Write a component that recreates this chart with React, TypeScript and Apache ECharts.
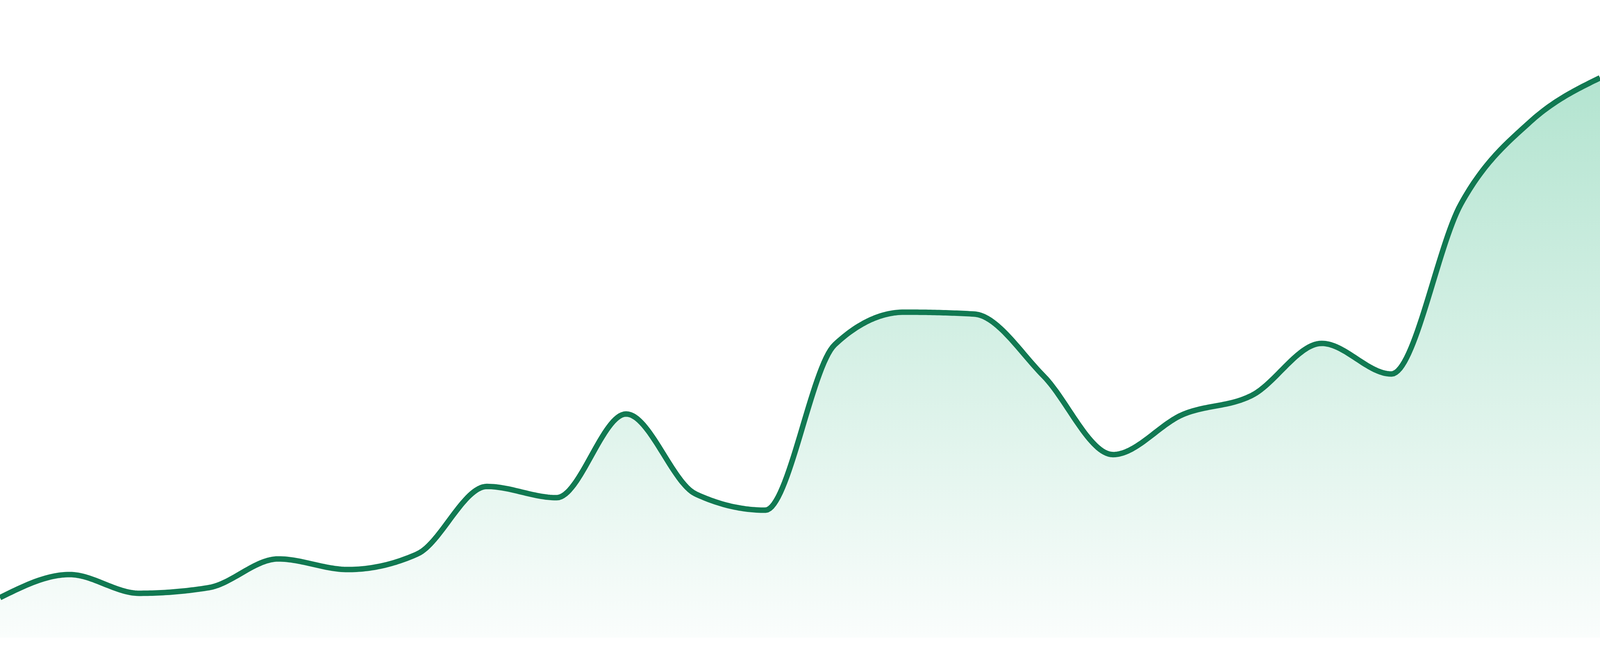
import { useEffect, useRef } from 'react';
import * as echarts from 'echarts';

// 24 hourly readings
const hours = [
  '00:00', '01:00', '02:00', '03:00', '04:00', '05:00', '06:00', '07:00',
  '08:00', '09:00', '10:00', '11:00', '12:00', '13:00', '14:00', '15:00',
  '16:00', '17:00', '18:00', '19:00', '20:00', '21:00', '22:00', '23:00',
];
const values = [
  6.4, 10.1, 7.1, 8.0, 12.6, 10.9, 13.4, 24.2,
  22.4, 35.8, 23.0, 20.4, 46.9, 52.1, 51.8, 41.9,
  29.3, 35.7, 38.8, 47.1, 42.2, 69.4, 82.6, 89.6,
];

const lineColor = '#117952';
const fillTop = '#b3e4d0';
const fillBottom = '#fafdfc';

const sign = (v: number) => (v < 0 ? -1 : v > 0 ? 1 : 0);

// monotone-x tangents (same rule as d3.curveMonotoneX)
function tangents(pts: number[][]) {
  const n = pts.length;
  const t: number[] = new Array(n).fill(0);
  for (let i = 1; i < n - 1; i++) {
    const h0 = pts[i][0] - pts[i - 1][0];
    const h1 = pts[i + 1][0] - pts[i][0];
    const s0 = (pts[i][1] - pts[i - 1][1]) / h0;
    const s1 = (pts[i + 1][1] - pts[i][1]) / h1;
    const p = (s0 * h1 + s1 * h0) / (h0 + h1);
    t[i] = (sign(s0) + sign(s1)) * Math.min(Math.abs(s0), Math.abs(s1), 0.5 * Math.abs(p)) || 0;
  }
  const sFirst = (pts[1][1] - pts[0][1]) / (pts[1][0] - pts[0][0]);
  const sLast = (pts[n - 1][1] - pts[n - 2][1]) / (pts[n - 1][0] - pts[n - 2][0]);
  t[0] = (3 * sFirst - t[1]) / 2;
  t[n - 1] = (3 * sLast - t[n - 2]) / 2;
  return t;
}

function curvePoints(pts: number[][], steps = 32) {
  const t = tangents(pts);
  const out: number[][] = [pts[0]];
  for (let i = 0; i < pts.length - 1; i++) {
    const [x0, y0] = pts[i];
    const [x1, y1] = pts[i + 1];
    const dx = (x1 - x0) / 3;
    const c1x = x0 + dx, c1y = y0 + dx * t[i];
    const c2x = x1 - dx, c2y = y1 - dx * t[i + 1];
    for (let k = 1; k <= steps; k++) {
      const u = k / steps;
      const a = (1 - u) ** 3, b = 3 * (1 - u) ** 2 * u, c = 3 * (1 - u) * u * u, d = u ** 3;
      out.push([a * x0 + b * c1x + c * c2x + d * x1, a * y0 + b * c1y + c * c2y + d * y1]);
    }
  }
  return out;
}

export default function App() {
  const chartRef = useRef<HTMLDivElement>(null);

  useEffect(() => {
    if (!chartRef.current) return;
    const chart = echarts.init(chartRef.current, null, { renderer: 'svg' });

    chart.setOption({
      animation: false,
      grid: { left: 0, right: 0, top: 33, bottom: 47 },
      xAxis: {
        type: 'category',
        data: hours,
        boundaryGap: false,
        show: false,
      },
      yAxis: {
        type: 'value',
        min: 0,
        max: 100,
        show: false,
      },
      series: [
        {
          type: 'custom',
          coordinateSystem: 'cartesian2d',
          clip: false,
          data: values.map((v, i) => [i, v]),
          encode: { x: 0, y: 1 },
          renderItem: (params: any, api: any) => {
            if (params.dataIndex !== 0) return null;
            const pts = values.map((v, i) => api.coord([i, v]));
            const line = curvePoints(pts);
            const baseY = api.coord([0, 0])[1];
            const area = [...line, [pts[pts.length - 1][0], baseY], [pts[0][0], baseY]];
            return {
              type: 'group',
              children: [
                {
                  type: 'polygon',
                  shape: { points: area },
                  style: {
                    fill: new echarts.graphic.LinearGradient(0, 0, 0, 1, [
                      { offset: 0, color: fillTop },
                      { offset: 1, color: fillBottom },
                    ]),
                    stroke: 'none',
                  },
                },
                {
                  type: 'polyline',
                  shape: { points: line },
                  style: {
                    fill: 'none',
                    stroke: lineColor,
                    lineWidth: 14,
                    lineJoin: 'round',
                  },
                },
              ],
            };
          },
        },
      ],
    });

    const resizeObserver = new ResizeObserver(() => chart.resize());
    resizeObserver.observe(chartRef.current);

    return () => {
      resizeObserver.disconnect();
      chart.dispose();
    };
  }, []);

  return (
    <div
      ref={chartRef}
      style={{ position: 'fixed', left: 0, top: 0, width: '100vw', height: '100vh', background: '#fff' }}
    />
  );
}
